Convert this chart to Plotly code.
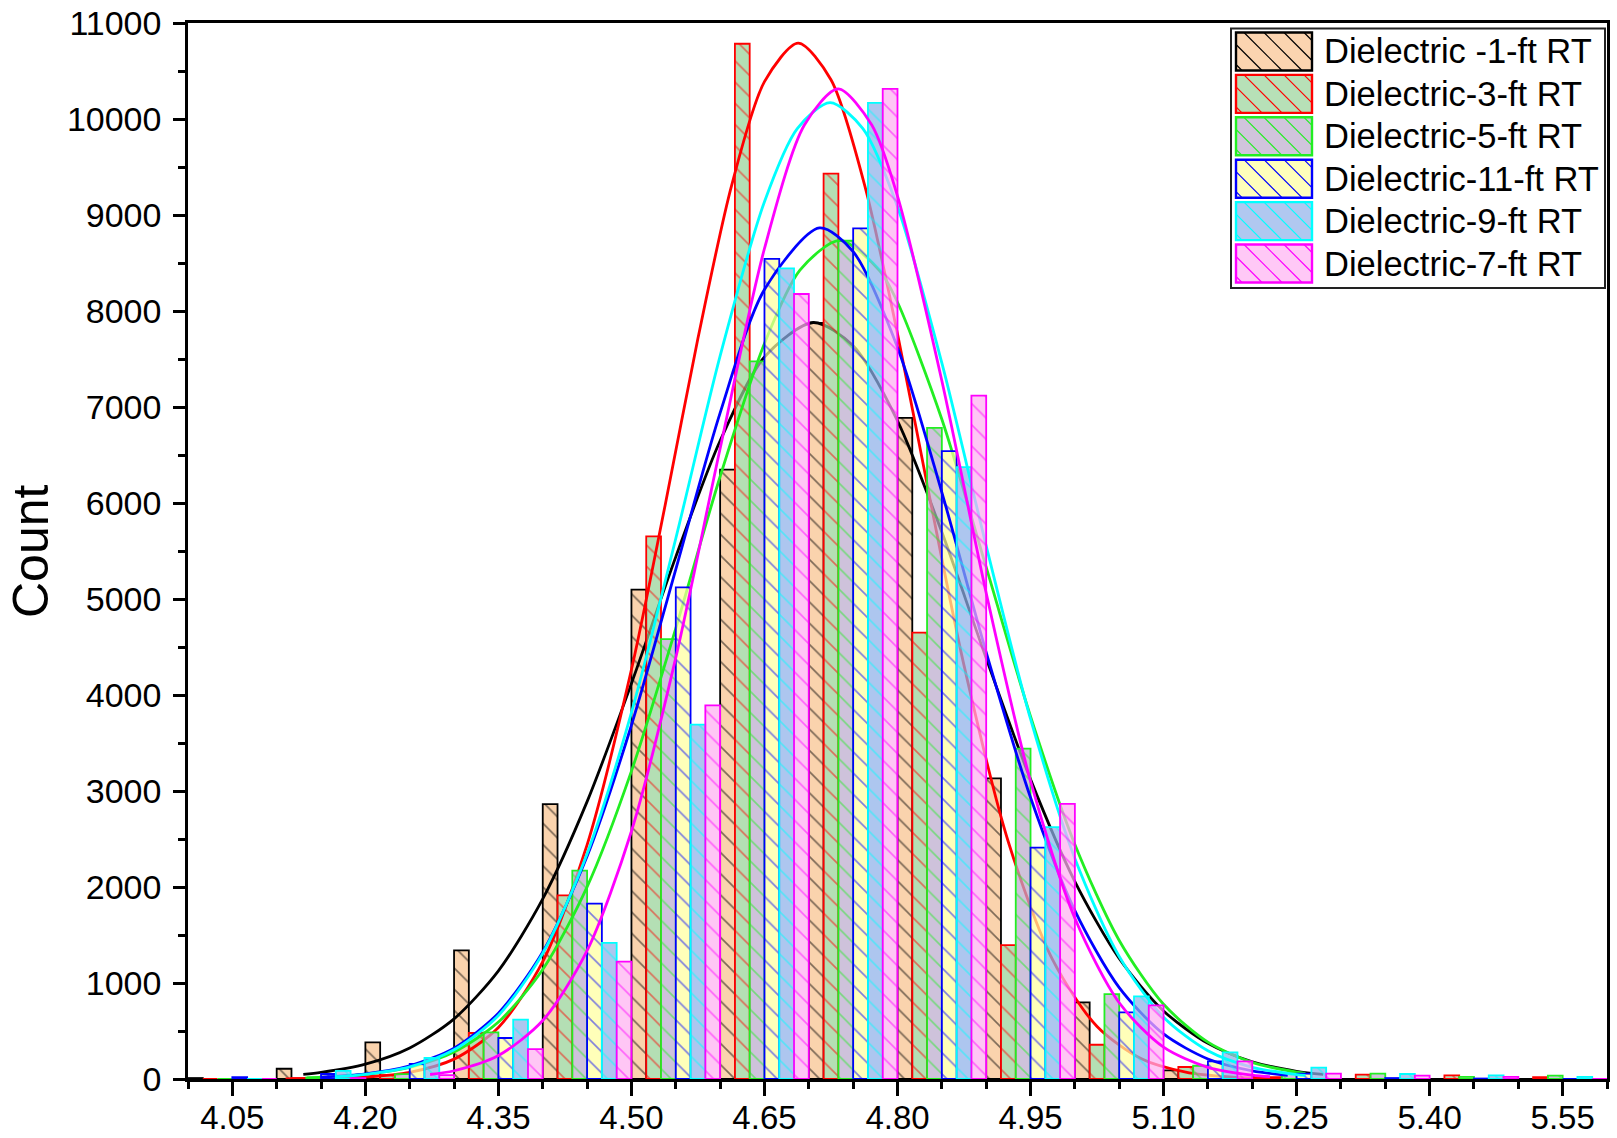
import plotly.graph_objects as go

# ---------------- data ----------------
bin_centers = [4.05, 4.15, 4.25, 4.35, 4.45, 4.55, 4.65, 4.75,
               4.85, 4.95, 5.05, 5.15, 5.25, 5.35, 5.45, 5.55]

series_names = ["Dielectric -1-ft RT", "Dielectric-3-ft RT", "Dielectric-5-ft RT",
                "Dielectric-11-ft RT", "Dielectric-9-ft RT", "Dielectric-7-ft RT"]

counts_1ft = [10, 107, 381, 1340, 2864, 5097, 6347, 7875, 6886, 3132, 798, 90, 25, 0, 0, 0]
counts_3ft = [0, 10, 40, 479, 1913, 5652, 10784, 9430, 4650, 1395, 357, 125, 20, 45, 38, 20]
counts_5ft = [0, 15, 50, 486, 2170, 4583, 7475, 8732, 6782, 3442, 885, 138, 60, 55, 22, 35]
counts_11ft = [20, 52, 156, 427, 1826, 5121, 8542, 8860, 6541, 2411, 694, 183, 55, 10, 5, 0]
counts_9ft = [0, 85, 219, 618, 1417, 3691, 8444, 10167, 6373, 2623, 860, 277, 118, 52, 38, 22]
counts_7ft = [0, 10, 40, 312, 1222, 3892, 8177, 10313, 7118, 2865, 767, 183, 55, 35, 22, 0]

# fitted normal curves
fit_x_1ft = [4.13, 4.15, 4.20, 4.25, 4.30, 4.35, 4.40, 4.45, 4.50, 4.55, 4.60, 4.65, 4.705, 4.75,
             4.80, 4.85, 4.90, 4.95, 5.00, 5.05, 5.10, 5.15, 5.20, 5.25, 5.28]
fit_y_1ft = [48, 68, 154, 323, 627, 1127, 1876, 2889, 4120, 5439, 6648, 7521, 7880, 7637,
             6856, 5697, 4382, 3121, 2057, 1255, 709, 371, 180, 80, 48]

fit_x_3ft = [4.11, 4.15, 4.20, 4.25, 4.30, 4.35, 4.40, 4.45, 4.50, 4.538, 4.575, 4.613, 4.65,
             4.688, 4.725, 4.763, 4.80, 4.838, 4.875, 4.925, 4.975, 5.025, 5.075, 5.125,
             5.175, 5.22]
fit_y_3ft = [2, 5, 21, 70, 207, 537, 1223, 2439, 4265, 5977, 7716, 9309, 10389,
             10790, 10409, 9309, 7762, 5977, 4308, 2469, 1241, 547, 211, 72,
             21, 6]

fit_x_5ft = [4.134, 4.15, 4.20, 4.25, 4.30, 4.35, 4.40, 4.45, 4.50, 4.55, 4.60, 4.65, 4.69, 4.735,
             4.78, 4.80, 4.85, 4.90, 4.95, 5.00, 5.05, 5.10, 5.15, 5.20, 5.25, 5.26]
fit_y_5ft = [12, 18, 49, 122, 282, 593, 1140, 2001, 3207, 4695, 6276, 7662, 8426, 8736,
             8418, 8091, 6872, 5331, 3777, 2443, 1443, 778, 384, 173, 71, 59]

fit_x_11ft = [4.15, 4.20, 4.25, 4.30, 4.35, 4.40, 4.45, 4.50, 4.55, 4.60, 4.65, 4.712, 4.75,
              4.80, 4.85, 4.90, 4.95, 5.00, 5.05, 5.10, 5.15, 5.20, 5.24]
fit_y_11ft = [19, 53, 137, 322, 686, 1324, 2320, 3685, 5309, 6939, 8224, 8865, 8618,
              7621, 6111, 4445, 2932, 1754, 952, 469, 209, 85, 38]

fit_x_9ft = [4.166, 4.20, 4.25, 4.30, 4.35, 4.40, 4.45, 4.50, 4.55, 4.60, 4.65, 4.687, 4.724,
             4.761, 4.80, 4.85, 4.90, 4.95, 5.00, 5.05, 5.10, 5.15, 5.20, 5.25, 5.26]
fit_y_9ft = [23, 48, 126, 304, 662, 1309, 2347, 3817, 5630, 7532, 9139, 9900, 10170,
             9900, 9085, 7459, 5554, 3751, 2297, 1276, 643, 294, 122, 46, 37]

fit_x_7ft = [4.273, 4.30, 4.35, 4.40, 4.45, 4.50, 4.55, 4.60, 4.65, 4.695, 4.733, 4.771,
             4.80, 4.85, 4.90, 4.95, 5.00, 5.05, 5.10, 5.15, 5.20, 5.22]
fit_y_7ft = [47, 86, 245, 609, 1337, 2581, 4389, 6568, 8651, 9937, 10313, 9937,
             9197, 7274, 5063, 3102, 1674, 794, 332, 122, 40, 24]

counts = [counts_1ft, counts_3ft, counts_5ft, counts_11ft, counts_9ft, counts_7ft]
fit_x = [fit_x_1ft, fit_x_3ft, fit_x_5ft, fit_x_11ft, fit_x_9ft, fit_x_7ft]
fit_y = [fit_y_1ft, fit_y_3ft, fit_y_5ft, fit_y_11ft, fit_y_9ft, fit_y_7ft]

# ---------------- styles ----------------
line_colors = ["#000000", "#FF0000", "#22EE22", "#0000FF", "#00FFFF", "#FF00FF"]
fill_rgba = ["rgba(249,194,142,0.72)", "rgba(152,211,152,0.72)", "rgba(188,171,205,0.72)",
             "rgba(255,255,158,0.72)", "rgba(142,176,234,0.72)", "rgba(255,176,242,0.72)"]
fill_solid = ["#FBD4B0", "#B7E0B7", "#D0C4DC", "#FFFFBB", "#B0C8F0", "#FFC8F6"]

FONT = "Arial, Liberation Sans, sans-serif"
W, H = 1617, 1138
ML, MR, MT, MB = 188, 10, 23, 59
PW, PH = W - ML - MR, H - MT - MB
X_RANGE = [4.0, 5.6]
Y_RANGE = [0, 11000]

group_width = 0.1
bar_w = group_width / 6

fig = go.Figure()
for k in range(6):
    xa = "x" if k == 0 else f"x{k + 1}"
    ya = "y" if k == 0 else f"y{k + 1}"
    fig.add_trace(go.Bar(
        x=bin_centers, y=counts[k], width=bar_w, offset=-group_width / 2 + k * bar_w,
        xaxis=xa, yaxis=ya, name=series_names[k], showlegend=False,
        marker=dict(color=fill_rgba[k], line=dict(color=line_colors[k], width=1.8),
                    pattern=dict(shape="\\", fgcolor=line_colors[k], bgcolor=fill_rgba[k],
                                 size=15, solidity=0.11)),
    ))
    fig.add_trace(go.Scatter(
        x=fit_x[k], y=fit_y[k], mode="lines", xaxis=xa, yaxis=ya, showlegend=False,
        line=dict(color=line_colors[k], width=2.8, shape="spline", smoothing=0.8),
    ))

axis_common = dict(showgrid=False, zeroline=False, automargin=False)
layout = dict(
    width=W, height=H, margin=dict(l=ML, r=MR, t=MT, b=MB, autoexpand=False),
    paper_bgcolor="white", plot_bgcolor="white", showlegend=False,
    font=dict(family=FONT, size=33, color="black"),
    xaxis=dict(range=X_RANGE, tickmode="linear", tick0=4.05, dtick=0.15, tickformat=".2f",
               ticks="outside", ticklen=14, tickwidth=2.5, tickcolor="black",
               showline=True, linewidth=2.5, linecolor="black", mirror=True,
               tickfont=dict(family=FONT, size=33, color="black"), ticklabelstandoff=-6,
               minor=dict(tick0=4.0, dtick=0.05, ticks="outside", ticklen=7, tickwidth=2.5,
                          tickcolor="black", showgrid=False),
               **axis_common),
    yaxis=dict(range=Y_RANGE, tickmode="linear", tick0=0, dtick=1000, tickformat="d",
               ticks="outside", ticklen=12, tickwidth=2.5, tickcolor="black",
               showline=True, linewidth=2.5, linecolor="black", mirror=True,
               tickfont=dict(family=FONT, size=34, color="black"), ticklabelstandoff=5,
               minor=dict(tick0=0, dtick=500, ticks="outside", ticklen=7, tickwidth=2.5,
                          tickcolor="black", showgrid=False),
               **axis_common),
)
for k in range(1, 6):
    layout[f"xaxis{k + 1}"] = dict(overlaying="x", range=X_RANGE, visible=False, **axis_common)
    layout[f"yaxis{k + 1}"] = dict(overlaying="y", range=Y_RANGE, visible=False, **axis_common)


def px(xp):
    return (xp - ML) / PW


def py(yp):
    return (H - MB - yp) / PH


shapes = []
annotations = []

# legend frame
shapes.append(dict(type="rect", xref="paper", yref="paper", x0=px(1231), x1=px(1605),
                   y0=py(288), y1=py(28.5), line=dict(color="#222222", width=2),
                   fillcolor="white", layer="above"))
sw_l, sw_r = 1236, 1312
row_top0, row_h, row_pitch = 32.5, 38, 42.4
for k in range(6):
    top = row_top0 + k * row_pitch
    bot = top + row_h
    shapes.append(dict(type="rect", xref="paper", yref="paper", x0=px(sw_l), x1=px(sw_r),
                       y0=py(bot), y1=py(top), fillcolor=fill_solid[k],
                       line=dict(width=0), layer="above"))
    # hatch lines "\" inside swatch
    w = sw_r - sw_l
    h = row_h
    c = -h + 6
    path = ""
    while c < w:
        d0 = max(0, -c)
        d1 = min(h, w - c)
        if d1 > d0:
            x0, y0 = sw_l + c + d0, top + d0
            x1, y1 = sw_l + c + d1, top + d1
            path += f"M{px(x0)},{py(y0)} L{px(x1)},{py(y1)} "
        c += 20
    shapes.append(dict(type="path", xref="paper", yref="paper", path=path,
                       line=dict(color=line_colors[k], width=1.2), layer="above"))
    shapes.append(dict(type="rect", xref="paper", yref="paper", x0=px(sw_l), x1=px(sw_r),
                       y0=py(bot), y1=py(top), line=dict(color=line_colors[k], width=2.4),
                       layer="above"))
    annotations.append(dict(text=series_names[k], xref="paper", yref="paper",
                            x=px(1322), y=py((top + bot) / 2), xanchor="left", yanchor="middle",
                            showarrow=False, font=dict(family=FONT, size=34.5, color="black")))

annotations.append(dict(text="Count", xref="paper", yref="paper", x=px(31), y=0.5,
                        xanchor="center", yanchor="middle", textangle=-90, showarrow=False,
                        font=dict(family=FONT, size=50, color="black")))

layout["shapes"] = shapes
layout["annotations"] = annotations
fig.update_layout(**layout)

fig.write_html("out.html")
